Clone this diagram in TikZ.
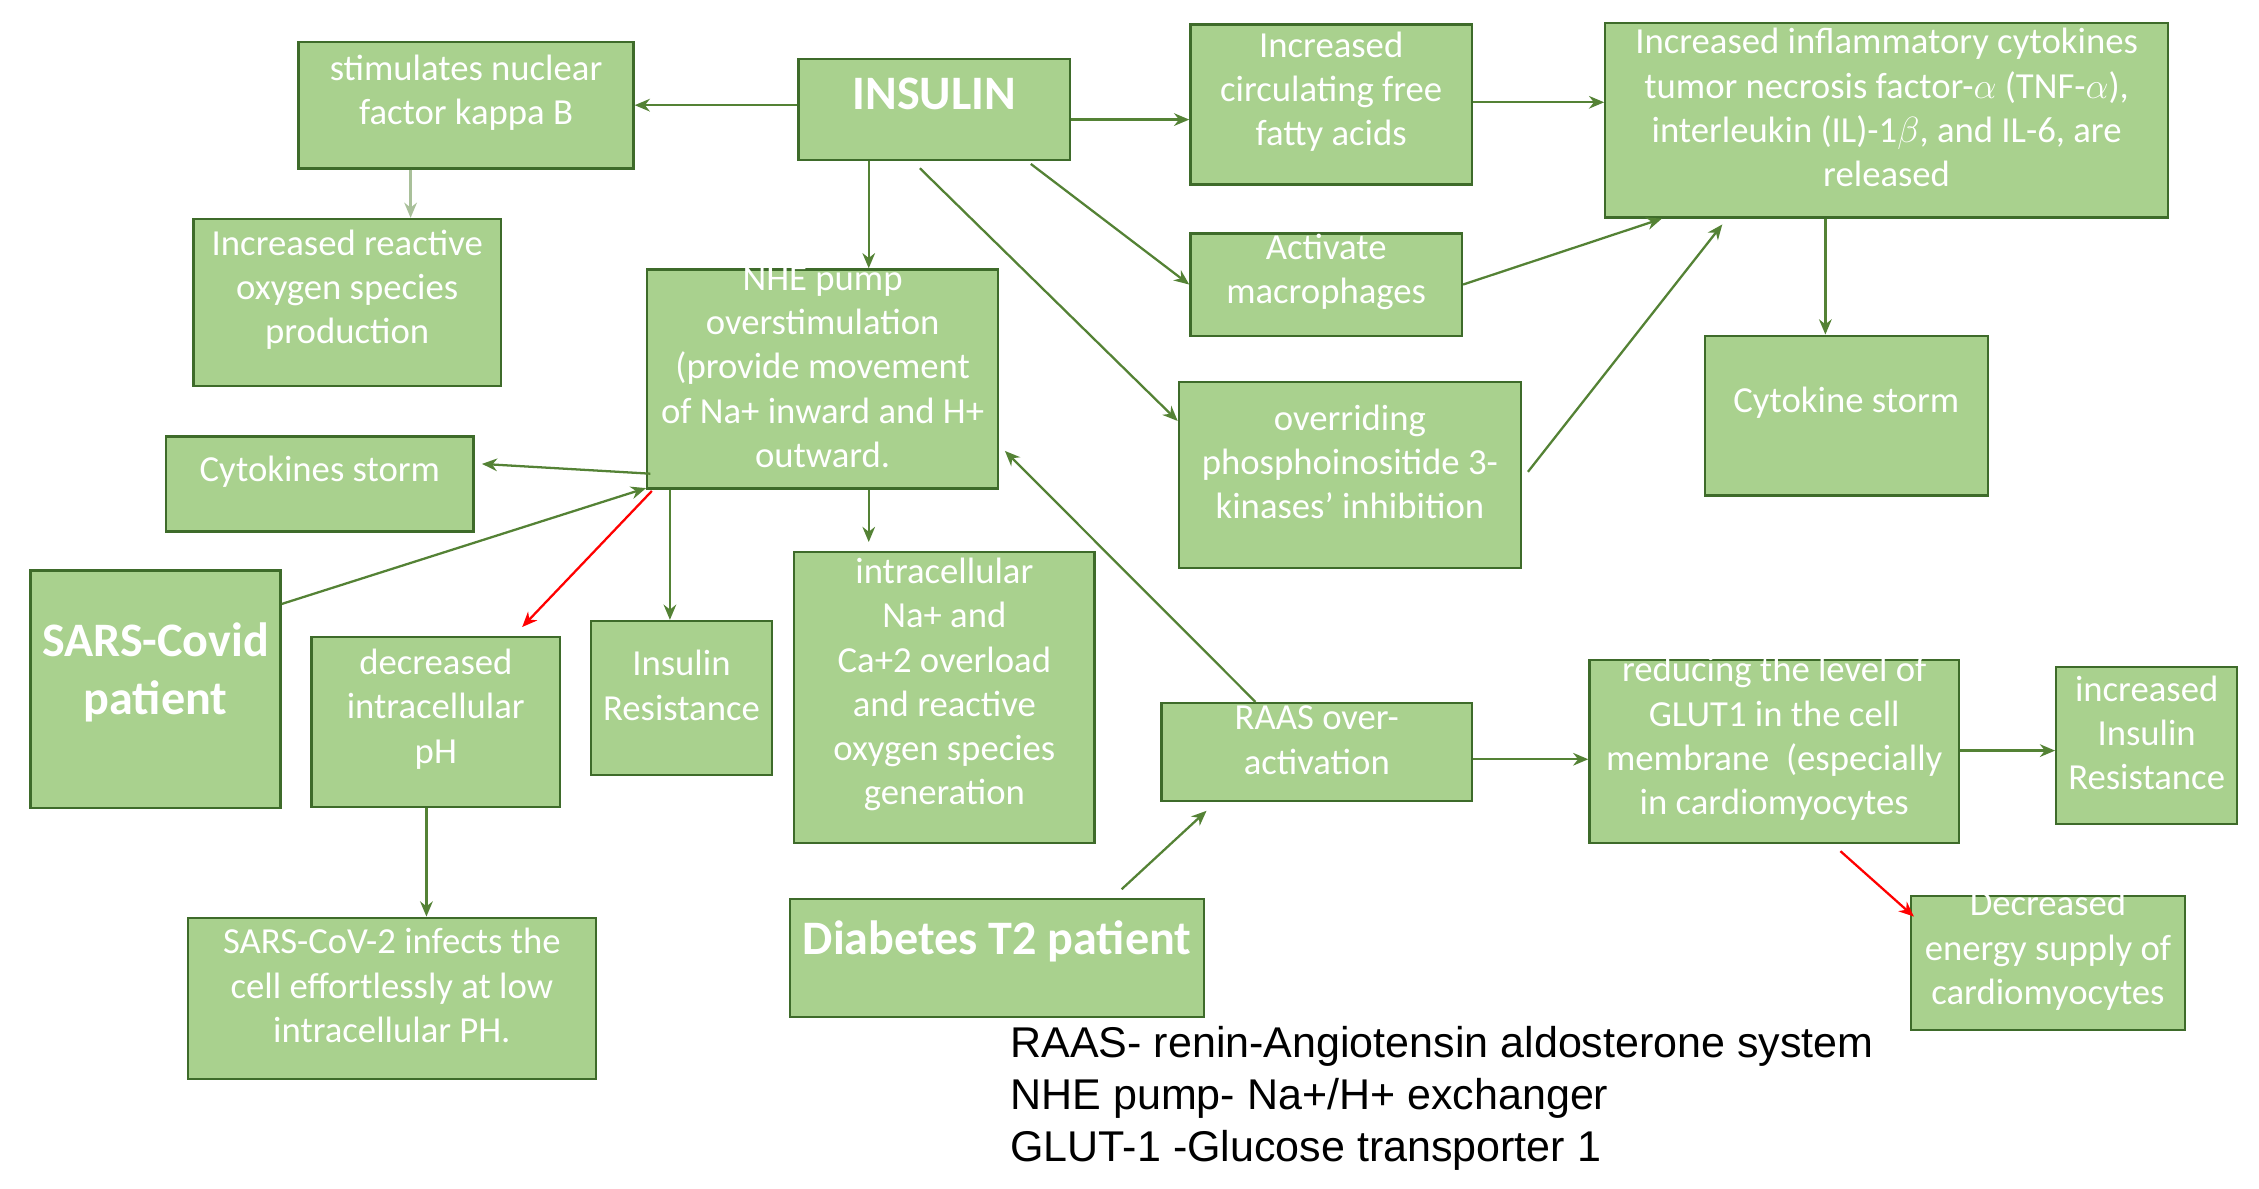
\documentclass[tikz,border=0pt]{standalone}
\usepackage{fontspec}
\setmainfont{Carlito}
\newfontfamily\legfont{Liberation Sans}
\usetikzlibrary{fit,calc,arrows.meta}
\definecolor{bfill}{HTML}{A9D18E}
\definecolor{bdraw}{HTML}{3E6B2A}
\definecolor{agreen}{HTML}{548235}
\tikzset{
 box/.style={draw=bdraw,fill=bfill,line width=0.9pt,inner sep=0pt,align=center,text=white,font=\fontsize{14.5}{17.5}\selectfont},
 big/.style={font=\fontsize{19}{23}\selectfont\bfseries},
 arr/.style={draw=agreen,line width=0.9pt,-{Stealth[length=6pt,width=5pt]}},
 red/.style={arr,draw=red,-{Stealth[length=6pt,width=5pt,fill=red]}},
}
\newcommand\bx[7][]{\pgfmathsetmacro\ww{(#5-#3)*0.02-0.25}%
 \node[box,#1,fit={(#3,#4)(#5,#6)},text width=\ww cm] (#2) {#7};}
\begin{document}
\begin{tikzpicture}[x=0.02cm,y=-0.02cm]
\useasboundingbox (0,0) rectangle (1568,825);
\bx{stim}{201}{29}{446}{117}{stimulates nuclear\\factor kappa B}
\bx[big]{ins}{548}{41}{749}{111}{INSULIN}
\bx{ffa}{820}{17}{1028}{128}{Increased\\circulating free\\fatty acids}
\bx{cyt}{1108}{16}{1511}{151}{Increased inflammatory cytokines\\tumor necrosis factor-$\alpha$ (TNF-$\alpha$),\\interleukin (IL)-1$\beta$, and IL-6, are\\released}
\bx{ros}{128}{152}{354}{268}{Increased reactive\\oxygen species\\production}
\bx{nhe}{443}{187}{699}{339}{NHE pump\\overstimulation\\(provide movement\\of Na+ inward and H+\\outward.}
\bx{mac}{820}{162}{1021}{233}{Activate\\macrophages}
\bx{st2}{1177}{233}{1386}{344}{Cytokine storm}
\bx{pik}{812}{265}{1062}{394}{overriding\\phosphoinositide 3-\\kinases' inhibition}
\bx{cst}{109}{303}{335}{369}{Cytokines storm}
\bx[big]{sars}{15}{396}{201}{561}{SARS-Covid\\patient}
\bx{ph}{210}{442}{395}{560}{decreased\\intracellular\\pH}
\bx{ir}{404}{431}{542}{538}{Insulin\\Resistance}
\bx{intra}{545}{383}{766}{585}{intracellular\\Na+ and\\Ca+2 overload\\and reactive\\oxygen species\\generation}
\bx{raas}{800}{488}{1028}{556}{RAAS over-\\activation}
\bx{glut}{1097}{458}{1366}{585}{reducing the level of\\GLUT1 in the cell\\membrane\ \ (especially\\in cardiomyocytes}
\bx{iir}{1421}{463}{1559}{572}{increased\\Insulin\\Resistance}
\bx[big]{t2}{542}{624}{842}{706}{Diabetes T2 patient}
\bx{inf}{124}{637}{420}{749}{SARS-CoV-2 infects the\\cell effortlessly at low\\intracellular PH.}
\bx{en}{1320}{622}{1523}{715}{Decreased\\energy supply of\\cardiomyocytes}
\node[anchor=north west,align=left,font=\legfont\fontsize{17}{20.5}\selectfont,inner sep=0pt] (leg) at (701,712)
 {RAAS- renin-Angiotensin aldosterone system\\NHE pump- Na+/H+ exchanger\\GLUT-1 -Glucose transporter 1};
% arrows
\draw[arr] (ins.west |- 0,73) -- (stim.east |- 0,73);
\draw[arr,draw=agreen!50] (stim.south -| 285,0) -- (ros.north -| 285,0);
\draw[arr] (ins.east |- 0,83) -- (ffa.west |- 0,83);
\draw[arr] (ffa.east |- 0,71) -- (cyt.west |- 0,71);
\draw[arr] (ins.south -| 603,0) -- (nhe.north -| 603,0);
\draw[arr] ($(ins.south)+(67,2)$) -- (mac.west);
\draw[arr] ($(ins.south)+(-10,5)$) -- ($(pik.north west)+(0,28)$);
\draw[arr] ($(mac.east)+(0,0)$) -- ($(cyt.south west)+(40,0)$);
\draw[arr] ($(pik.east)+(4,-2)$) -- ($(cyt.south west)+(82,4)$);
\draw[arr] (cyt.south -| 1267,0) -- (st2.north -| 1267,0);
\draw[arr] ($(nhe.south west)+(3,-11)$) -- ($(cst.east)+(5,-14)$);
\draw[arr] ($(sars.north east)+(0,24)$) -- ($(nhe.south west)+(0,-1)$);
\draw[red] ($(nhe.south west)+(4,1)$) -- ($(ph.north west)+(147,-6)$);
\draw[arr] (nhe.south -| 465,0) -- (ir.north -| 465,0);
\draw[arr] (nhe.south -| 603,0) -- ($(intra.north -| 603,0)+(0,-6)$);
\draw[arr] ($(raas.north west)+(66,0)$) -- ($(nhe.east)+(4,50)$);
\draw[arr] ($(t2.north east)+(-58,-6)$) -- ($(raas.south west)+(32,6)$);
\draw[arr] (raas.east |- 0,527) -- (glut.west |- 0,527);
\draw[arr] (glut.east |- 0,521) -- (iir.west |- 0,521);
\draw[red] ($(glut.south west)+(175,5)$) -- ($(en.north west)+(3,15)$);
\draw[arr] (ph.south -| 296,0) -- (inf.north -| 296,0);
\end{tikzpicture}
\end{document}
